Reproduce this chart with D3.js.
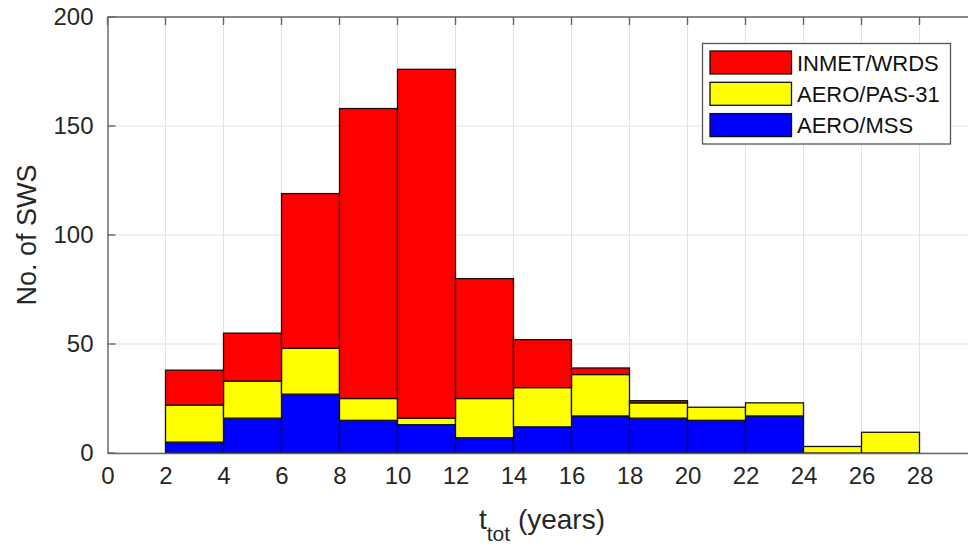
<!DOCTYPE html>
<html>
<head>
<meta charset="utf-8">
<script src="https://cdn.jsdelivr.net/npm/d3@7"></script>
<style>
  html, body { margin: 0; padding: 0; background: #fff; overflow: hidden; }
  svg { display: block; font-family: "Liberation Sans", Arial, Helvetica, sans-serif; }
</style>
</head>
<body>
<svg id="chart" width="968" height="546"></svg>
<script>
// ---- data ----
const binStarts = [2, 4, 6, 8, 10, 12, 14, 16, 18, 20, 22, 24, 26];
const binWidth = 2;
const seriesNames = ["AERO/MSS", "AERO/PAS-31", "INMET/WRDS"];
const mss   = [5, 16, 27, 15, 13, 7, 12, 17, 16, 15, 17, 0, 0];
const pas31 = [17, 17, 21, 10, 3, 18, 18, 19, 7, 6, 6, 3, 9.5];
const inmet = [16, 22, 71, 133, 160, 55, 22, 3, 1, 0, 0, 0, 0];
const xTicks = [0, 2, 4, 6, 8, 10, 12, 14, 16, 18, 20, 22, 24, 26, 28, 30];
const yTicks = [0, 50, 100, 150, 200];
const colors = { "AERO/MSS": "#0000ff", "AERO/PAS-31": "#ffff00", "INMET/WRDS": "#ff0000" };

const table = binStarts.map((b, i) => ({
  x0: b, "AERO/MSS": mss[i], "AERO/PAS-31": pas31[i], "INMET/WRDS": inmet[i]
}));

const svg = d3.select("#chart");
const x = d3.scaleLinear().domain([0, 30]).range([107.5, 977.5]);
const y = d3.scaleLinear().domain([0, 200]).range([453, 17]);

// grid
const grid = svg.append("g");
grid.selectAll("line.vx").data(xTicks).join("line")
  .attr("x1", d => x(d)).attr("x2", d => x(d))
  .attr("y1", y(0)).attr("y2", y(200))
  .attr("stroke", "#e3e3e3").attr("stroke-width", 1);
grid.selectAll("line.hy").data(yTicks).join("line")
  .attr("x1", x(0)).attr("x2", x(30))
  .attr("y1", d => y(d)).attr("y2", d => y(d))
  .attr("stroke", "#e3e3e3").attr("stroke-width", 1);

// bars
const stack = d3.stack().keys(seriesNames);
const layers = stack(table);
svg.append("g").selectAll("g").data(layers).join("g")
  .attr("fill", d => colors[d.key])
  .selectAll("rect").data(d => d.filter(s => s[1] - s[0] > 0)).join("rect")
  .attr("x", d => x(d.data.x0))
  .attr("width", d => x(d.data.x0 + binWidth) - x(d.data.x0))
  .attr("y", d => y(d[1]))
  .attr("height", d => y(d[0]) - y(d[1]))
  .attr("stroke", "#111").attr("stroke-width", 1.3);

// axes
const axisColor = "#666";
const textColor = "#262626";
const xAxis = d3.axisBottom(x).tickValues(xTicks.filter(d => d <= 28)).tickSize(0).tickPadding(14);
const gx = svg.append("g").attr("transform", `translate(0,${y(0)})`).call(xAxis);
const yAxis = d3.axisLeft(y).tickValues(yTicks).tickSize(0).tickPadding(14);
const gy = svg.append("g").attr("transform", `translate(${x(0)},0)`).call(yAxis);
[gx, gy].forEach(g => {
  g.select(".domain").attr("stroke", axisColor).attr("stroke-width", 1.4);
  g.selectAll("text").attr("fill", textColor).attr("font-size", 24)
    .attr("font-family", "'Liberation Sans', Arial, sans-serif");
});
gx.selectAll("text").attr("dy", "0.72em");

// top frame line
svg.append("line").attr("x1", x(0)).attr("x2", x(30)).attr("y1", y(200)).attr("y2", y(200))
  .attr("stroke", axisColor).attr("stroke-width", 1.4);

// inward tick marks (top and left)
const tickLen = 8;
svg.append("g").selectAll("line").data(xTicks).join("line")
  .attr("x1", d => x(d)).attr("x2", d => x(d))
  .attr("y1", y(200)).attr("y2", y(200) + tickLen)
  .attr("stroke", axisColor).attr("stroke-width", 1.4);
svg.append("g").selectAll("line").data(yTicks).join("line")
  .attr("x1", x(0)).attr("x2", x(0) + tickLen)
  .attr("y1", d => y(d)).attr("y2", d => y(d))
  .attr("stroke", axisColor).attr("stroke-width", 1.4);

// axis labels
const xl = svg.append("text").attr("x", 542).attr("y", 529)
  .attr("text-anchor", "middle").attr("fill", textColor).attr("font-size", 28);
xl.append("tspan").text("t");
xl.append("tspan").attr("font-size", 21).attr("dy", 12).text("tot");
xl.append("tspan").attr("dy", -12).text(" (years)");

svg.append("text").attr("transform", "translate(36,235) rotate(-90)")
  .attr("text-anchor", "middle").attr("fill", textColor).attr("font-size", 27)
  .text("No. of SWS");

// legend
const legendOrder = ["INMET/WRDS", "AERO/PAS-31", "AERO/MSS"];
const lg = svg.append("g");
lg.append("rect").attr("x", 702.5).attr("y", 43.5).attr("width", 248).attr("height", 100.5)
  .attr("fill", "#fff").attr("stroke", "#555").attr("stroke-width", 1.3);
const rows = lg.selectAll("g").data(legendOrder).join("g")
  .attr("transform", (d, i) => `translate(0,${51 + i * 31.3})`);
rows.append("rect").attr("x", 710).attr("y", 0).attr("width", 81.5).attr("height", 23)
  .attr("fill", d => colors[d]).attr("stroke", "#111").attr("stroke-width", 1.3);
rows.append("text").attr("x", 797).attr("y", 19.5).attr("fill", "#111")
  .attr("font-size", 22).text(d => d);
</script>
</body>
</html>
